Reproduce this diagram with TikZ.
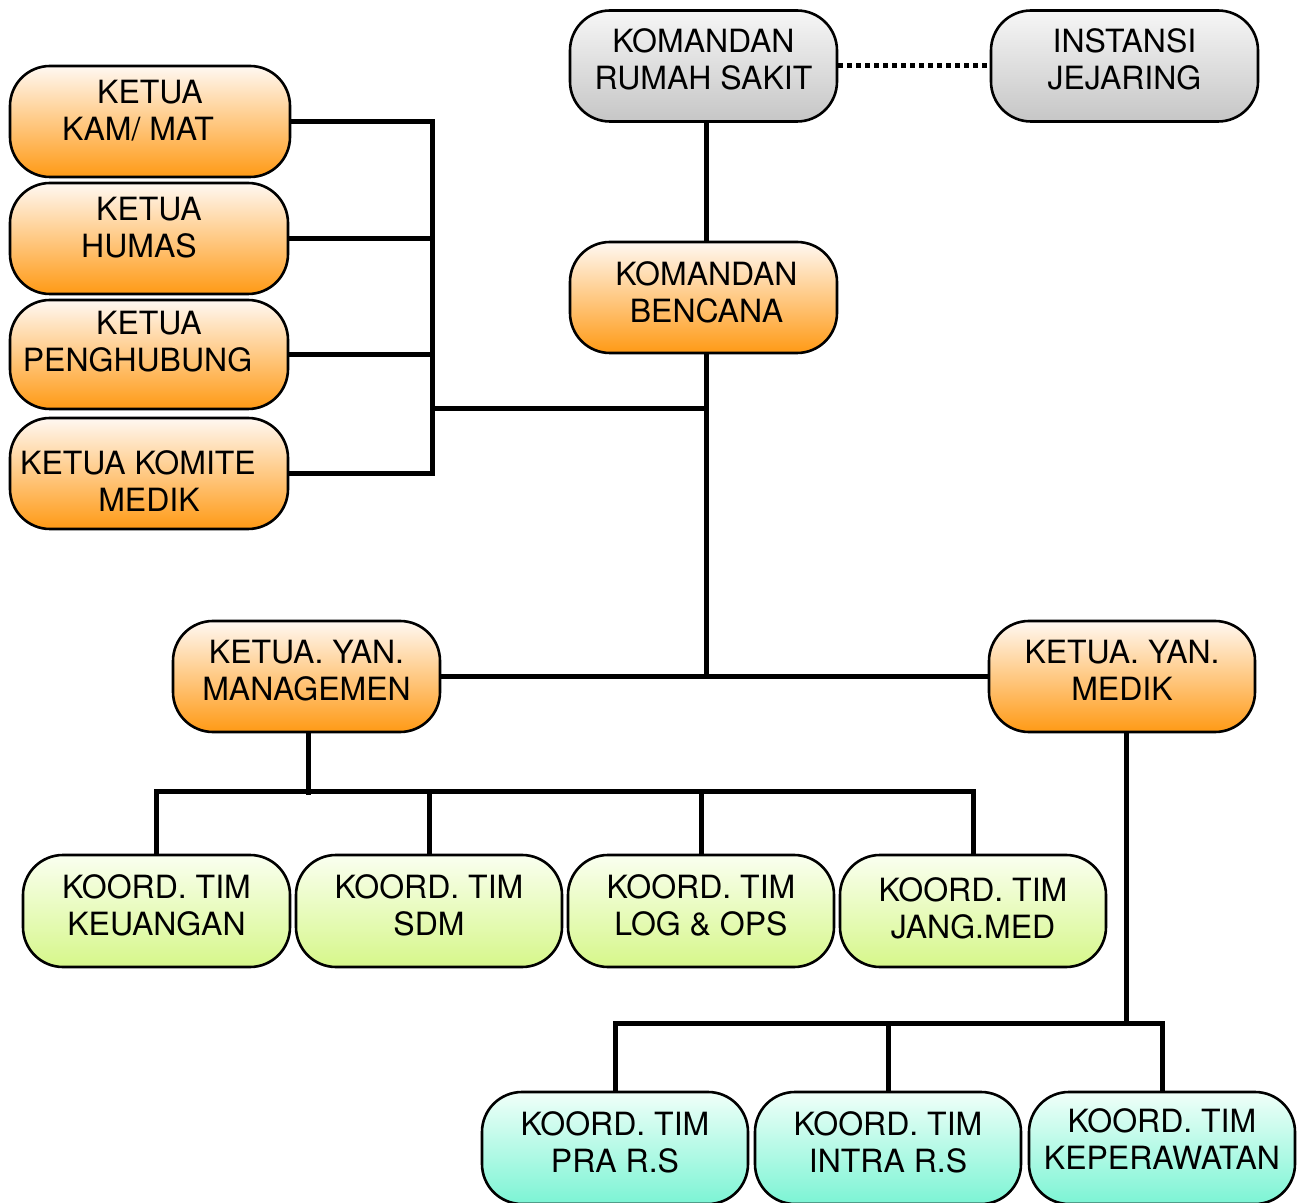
\documentclass[tikz,border=0pt]{standalone}
\usepackage{fontspec}
\setmainfont{TeX Gyre Heros}
\definecolor{grtop}{HTML}{F6F6F6}
\definecolor{grbot}{HTML}{C6C6C6}
\definecolor{ortop}{HTML}{FFF8F2}
\definecolor{orbot}{HTML}{FF9A15}
\definecolor{gntop}{HTML}{FAFFF0}
\definecolor{gnbot}{HTML}{D6F78A}
\definecolor{cytop}{HTML}{F0FFF9}
\definecolor{cybot}{HTML}{7CF4D4}
\begin{document}
\begin{tikzpicture}[x=0.5pt,y=-0.5pt,
  box/.style={draw=black, line width=1.3pt, rounded corners=20pt,
    minimum width=133.5pt, minimum height=55.5pt, inner sep=0pt},
  graybox/.style={box, top color=grtop, bottom color=grbot},
  orbox/.style={box, top color=ortop, bottom color=orbot},
  gnbox/.style={box, top color=gntop, bottom color=gnbot},
  cybox/.style={box, top color=cytop, bottom color=cybot},
  txt/.style={align=center, inner sep=0pt, text depth=0pt,
    font=\fontsize{16}{18.5}\selectfont},
  conn/.style={line width=2.5pt},
  dotconn/.style={line width=2.5pt, dash pattern=on 2.5pt off 2pt}]
\useasboundingbox (0,0) rectangle (1297,1203);

% boxes
\node[graybox] (krs) at (703.5,66) {};
\node[graybox] (inst) at (1124.5,66) {};
\node[orbox] (kb) at (703.5,297.5) {};
\node[orbox, minimum width=140pt] (kam) at (150,121.5) {};
\node[orbox, minimum width=139pt] (humas) at (149,238.5) {};
\node[orbox, minimum width=139pt, minimum height=54.5pt] (peng) at (149,354.5) {};
\node[orbox, minimum width=139pt] (komite) at (149,473.5) {};
\node[orbox] (mgmt) at (306.5,676.5) {};
\node[orbox, minimum width=133pt] (medik) at (1122,676.5) {};
\node[gnbox, minimum height=56pt] (keu) at (156.5,911) {};
\node[gnbox, minimum width=133pt, minimum height=56pt] (sdm) at (429,911) {};
\node[gnbox, minimum width=133pt, minimum height=56pt] (log) at (701,911) {};
\node[gnbox, minimum width=133pt, minimum height=56pt] (jang) at (973,911) {};
\node[cybox, minimum width=133pt, minimum height=56pt] (pra) at (615,1148) {};
\node[cybox, minimum width=133pt, minimum height=56pt] (intra) at (888,1148) {};
\node[cybox, minimum width=133pt, minimum height=56pt] (kep) at (1162,1148) {};

% texts
\node[txt] (krst) at ([yshift=3.25pt]krs.center) {KOMANDAN\\RUMAH SAKIT};
\node[txt] (instt) at ([yshift=3.25pt]inst.center) {INSTANSI\\JEJARING};
\node[txt] (kbt) at ([yshift=2.75pt,xshift=1.5pt]kb.center) {KOMANDAN\\BENCANA};
\node[txt] (kamt) at ([yshift=5.75pt]kam.center) {KETUA\\KAM/ MAT\rule{12pt}{0pt}};
\node[txt] (humast) at ([yshift=5.5pt]humas.center) {KETUA\\HUMAS\rule{10pt}{0pt}};
\node[txt] (pengt) at ([yshift=6.5pt]peng.center) {KETUA\\PENGHUBUNG\rule{11.5pt}{0pt}};
\node[txt] (komitet) at ([yshift=-3.75pt]komite.center) {KETUA KOMITE\rule{11pt}{0pt}\\MEDIK};
\node[txt] (mgmtt) at ([yshift=3.25pt]mgmt.center) {KETUA. YAN.\\MANAGEMEN};
\node[txt] (medikt) at ([yshift=3.25pt]medik.center) {KETUA. YAN.\\MEDIK};
\node[txt] (keut) at ([yshift=3pt]keu.center) {KOORD. TIM\\KEUANGAN};
\node[txt] (sdmt) at ([yshift=3pt]sdm.center) {KOORD. TIM\\SDM};
\node[txt] (logt) at ([yshift=3pt]log.center) {KOORD. TIM\\LOG \& OPS};
\node[txt] (jangt) at ([yshift=1.5pt]jang.center) {KOORD. TIM\\JANG.MED};
\node[txt] (prat) at ([yshift=3pt]pra.center) {KOORD. TIM\\PRA R.S};
\node[txt] (intrat) at ([yshift=3pt]intra.center) {KOORD. TIM\\INTRA R.S};
\node[txt] (kept) at ([yshift=4.25pt]kep.center) {KOORD. TIM\\KEPERAWATAN};

% helper coordinates
\coordinate (lb) at (432,409);
\coordinate (spine) at (706,0);
\coordinate (mspine) at (1126,0);
\coordinate (mb) at (0,791);
\coordinate (bb) at (0,1023);

% connectors
\draw[dotconn] (krs.east) -- (inst.west);
\draw[conn] (krs.south -| spine) -- (kb.north -| spine);
\draw[conn] (kam.east) -- (kam.east -| lb) -- (komite.east -| lb) -- (komite.east);
\draw[conn] (humas.east) -- (humas.east -| lb);
\draw[conn] (peng.east) -- (peng.east -| lb);
\draw[conn] (lb) -- (lb -| spine);
\draw[conn] (kb.south -| spine) -- (mgmt.east -| spine);
\draw[conn] (mgmt.east) -- (medik.west);
\draw[conn] ([xshift=0.75pt]mgmt.south) -- ([xshift=0.75pt,yshift=-2pt]mgmt.south |- mb);
\draw[conn] (keu.north) -- (keu.north |- mb) -- (jang.north |- mb) -- (jang.north);
\draw[conn] (sdm.north) -- (sdm.north |- mb);
\draw[conn] (log.north) -- (log.north |- mb);
\draw[conn] (medik.south -| mspine) -- (bb -| mspine);
\draw[conn] (pra.north) -- (pra.north |- bb) -- (kep.north |- bb) -- (kep.north);
\draw[conn] (intra.north) -- (intra.north |- bb);
\end{tikzpicture}
\end{document}
